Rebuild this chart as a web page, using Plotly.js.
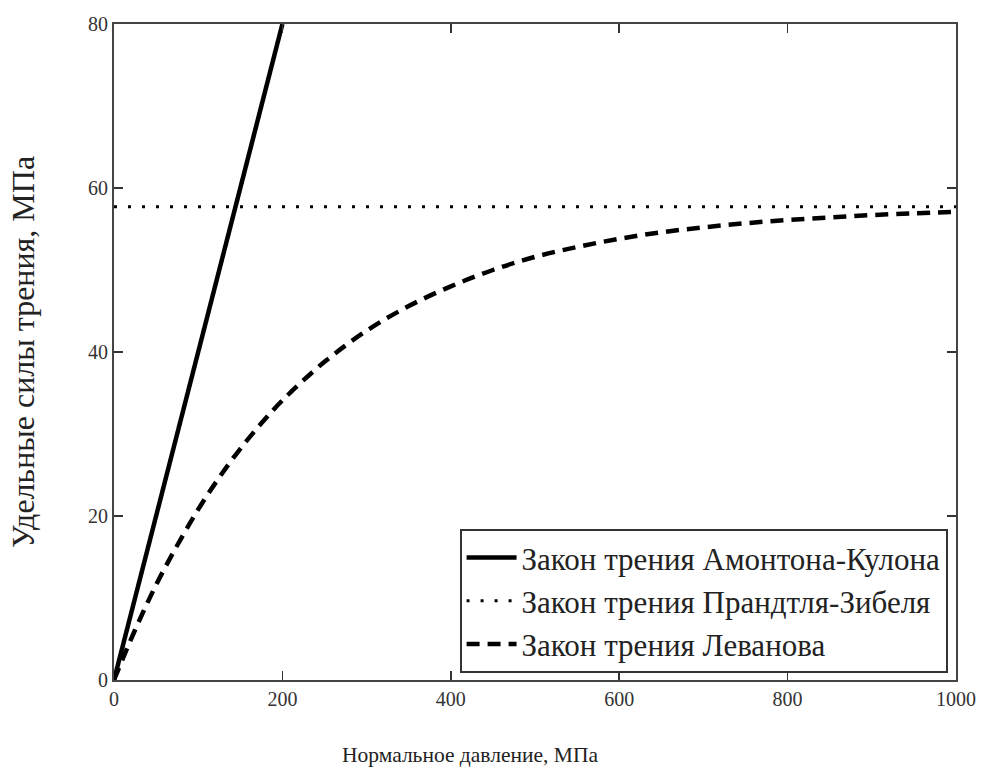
<!DOCTYPE html>
<html>
<head>
<meta charset="utf-8">
<script src="https://cdn.plot.ly/plotly-3.0.1.min.js"></script>
<style>html,body{margin:0;padding:0;background:#fff;}</style>
</head>
<body>
<div id="chart" style="width:989px;height:778px;"></div>
<script>
// Amontons-Coulomb law
const amontonsX = [0, 200];
const amontonsY = [0, 80];
// Prandtl-Siebel law
const prandtlX = [0, 1000];
const prandtlY = [57.7, 57.7];
// Levanov law
const levanovX = [0, 25, 50, 75, 100, 125, 150, 175, 200, 250, 300, 350, 400, 450, 500, 550, 600, 650, 700, 750, 800, 850, 900, 950, 1000];
const levanovY = [0, 6.1, 11.6, 16.4, 20.8, 24.7, 28.2, 31.3, 34.1, 38.8, 42.6, 45.6, 48.0, 50.0, 51.6, 52.8, 53.8, 54.6, 55.2, 55.7, 56.1, 56.4, 56.7, 56.9, 57.1];

const names = ['Закон трения Амонтона-Кулона', 'Закон трения Прандтля-Зибеля', 'Закон трения Леванова'];
const xTicks = [0, 200, 400, 600, 800, 1000];
const yTicks = [0, 20, 40, 60, 80];

const serif = 'Liberation Serif';

const traces = [
  {x: amontonsX, y: amontonsY, name: names[0], mode: 'lines', line: {color: '#000', width: 4.5}},
  {x: prandtlX, y: prandtlY, name: names[1], mode: 'lines', line: {color: '#000', width: 3, dash: '3px,11px'}},
  {x: levanovX, y: levanovY, name: names[2], mode: 'lines', line: {color: '#000', width: 4.5, dash: '13px,8px', shape: 'spline'}}
];

const layout = {
  width: 989, height: 778,
  margin: {l: 114, r: 33, t: 24, b: 98},
  paper_bgcolor: '#fff', plot_bgcolor: '#fff',
  showlegend: true,
  font: {family: serif, color: '#333'},
  xaxis: {
    range: [0, 1000], tickvals: xTicks, ticktext: xTicks.map(String),
    ticks: 'inside', ticklen: 9, tickwidth: 1.5, tickcolor: '#333',
    showline: true, linecolor: '#444', linewidth: 2, mirror: 'allticks',
    showgrid: false, zeroline: false,
    tickfont: {family: serif, size: 20, color: '#333'}
  },
  yaxis: {
    range: [0, 80], tickvals: yTicks, ticktext: yTicks.map(String),
    ticks: 'inside', ticklen: 9, tickwidth: 1.5, tickcolor: '#333',
    showline: true, linecolor: '#444', linewidth: 2, mirror: 'allticks',
    showgrid: false, zeroline: false,
    tickfont: {family: serif, size: 20, color: '#333'},
    title: {text: 'Удельные силы трения, МПа', font: {family: serif, size: 32, color: '#222'}, standoff: 44}
  },
  legend: {
    x: 0.99, xanchor: 'right', y: 0.011, yanchor: 'bottom',
    bgcolor: '#fff', bordercolor: '#333', borderwidth: 2,
    font: {family: serif, size: 31, color: '#222'},
    itemwidth: 50
  },
  annotations: [{
    text: 'Нормальное давление, МПа', xref: 'paper', yref: 'paper',
    x: (470 - 114) / 842, y: -(755 - 680) / 656, xanchor: 'center', yanchor: 'middle',
    showarrow: false, font: {family: serif, size: 21.5, color: '#222'}
  }]
};

Plotly.newPlot('chart', traces, layout, {displayModeBar: false, staticPlot: true});
</script>
</body>
</html>
